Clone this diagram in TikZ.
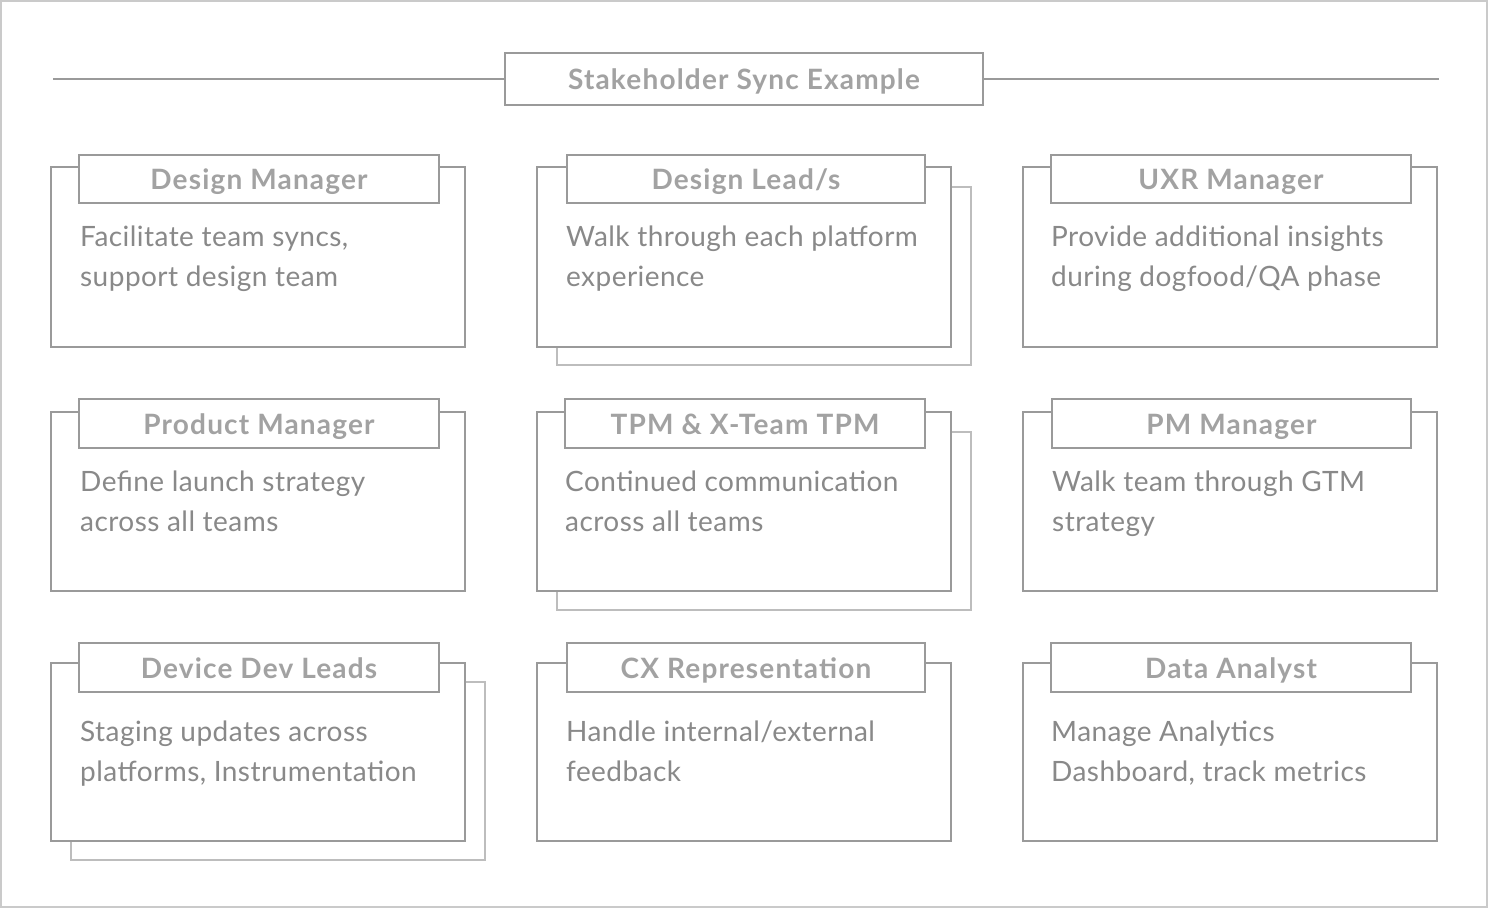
\documentclass[tikz,border=0pt]{standalone}
\usepackage{fontspec}
\setmainfont{Lato}
\newfontfamily\bodyfont[LetterSpace=1.6]{Lato}
\newfontfamily\headfont[LetterSpace=4.2]{Lato}
\definecolor{frame}{HTML}{CACACA}
\definecolor{linegray}{HTML}{9A9A9A}
\definecolor{backgray}{HTML}{BDBDBD}
\definecolor{labelgray}{HTML}{A2A2A2}
\definecolor{bodygray}{HTML}{898989}
\tikzset{
  mainbox/.style={draw=linegray, line width=1.8pt, fill=white, inner sep=0pt, outer sep=0pt, anchor=north west, minimum width=414pt, minimum height=180pt},
  backbox/.style={draw=backgray, line width=1.5pt, fill=white, inner sep=0pt, outer sep=0pt, anchor=north west, minimum width=414pt, minimum height=178pt},
  labelbox/.style={draw=linegray, line width=1.8pt, fill=white, inner sep=0pt, outer sep=0pt, anchor=north west, minimum width=360pt, minimum height=48pt},
  labeltext/.style={text=labelgray, font=\headfont\fontsize{28}{30}\selectfont\bfseries, inner sep=0pt, anchor=base},
  bodytext/.style={text=bodygray, font=\bodyfont\fontsize{28}{40}\selectfont, inner sep=0pt, anchor=base west},
  rule/.style={draw=linegray, line width=1.8pt},
}
\begin{document}
\begin{tikzpicture}[x=1pt,y=-1pt]
\useasboundingbox (0,0) rectangle (1488,908);
\draw[frame, line width=2pt] (1,1) rectangle (1487,907);
% title
\coordinate (ruleL) at (53,79);
\coordinate (ruleR) at (1439,79);
\node[draw=linegray, line width=1.8pt, fill=white, inner sep=0pt, outer sep=0pt, anchor=north west, minimum width=478pt, minimum height=52pt] (title) at (505,53) {};
\draw[rule] (ruleL) -- (title.west);
\draw[rule] (title.east) -- (ruleR);
\node[labeltext] (titletext) at (744,89) {Stakeholder Sync Example};

% ---------- back boxes (stacked) ----------
\node[backbox] (b12) at (557,187) {};
\node[backbox] (b22) at (557,432) {};
\node[backbox] (b31) at (71,682) {};

% ---------- row 1 ----------
\node[mainbox] (m11) at (51,167) {};
\node[labelbox] (l11) at (79,155) {};
\node[labeltext] at ([yshift=-10.5pt]l11.center) {Design Manager};
\node[bodytext] (t11a) at (80,246) {Facilitate team syncs,};
\node[bodytext] (t11b) at (80,286) {support design team};

\node[mainbox] (m12) at (537,167) {};
\node[labelbox, minimum width=358pt] (l12) at (567,155) {};
\node[labeltext] at ([yshift=-10.5pt]l12.center) {Design Lead/s};
\node[bodytext] (t12a) at (566,246) {Walk through each platform};
\node[bodytext] (t12b) at (566,286) {experience};

\node[mainbox] (m13) at (1023,167) {};
\node[labelbox] (l13) at (1051,155) {};
\node[labeltext] at ([yshift=-10.5pt]l13.center) {UXR Manager};
\node[bodytext] (t13a) at (1051,246) {Provide additional insights};
\node[bodytext] (t13b) at (1051,286) {during dogfood/QA phase};

% ---------- row 2 ----------
\node[mainbox, minimum height=179pt] (m21) at (51,412) {};
\node[labelbox, minimum height=49pt] (l21) at (79,399) {};
\node[labeltext] at ([yshift=-10.5pt]l21.center) {Product Manager};
\node[bodytext] (t21a) at (80,491) {Define launch strategy};
\node[bodytext] (t21b) at (80,531) {across all teams};

\node[mainbox, minimum height=179pt] (m22) at (537,412) {};
\node[labelbox, minimum width=360pt, minimum height=49pt] (l22) at (565,399) {};
\node[labeltext] at ([yshift=-10.5pt]l22.center) {TPM \& X-Team TPM};
\node[bodytext] (t22a) at (565,491) {Continued communication};
\node[bodytext] (t22b) at (565,531) {across all teams};

\node[mainbox, minimum height=179pt] (m23) at (1023,412) {};
\node[labelbox, minimum width=359pt, minimum height=49pt] (l23) at (1052,399) {};
\node[labeltext] at ([yshift=-10.5pt]l23.center) {PM Manager};
\node[bodytext] (t23a) at (1052,491) {Walk team through GTM};
\node[bodytext] (t23b) at (1052,531) {strategy};

% ---------- row 3 ----------
\node[mainbox, minimum height=178pt] (m31) at (51,663) {};
\node[labelbox, minimum height=49pt] (l31) at (79,643) {};
\node[labeltext] at ([yshift=-10.5pt]l31.center) {Device Dev Leads};
\node[bodytext] (t31a) at (80,741) {Staging updates across};
\node[bodytext] (t31b) at (80,781) {platforms, Instrumentation};

\node[mainbox, minimum height=178pt] (m32) at (537,663) {};
\node[labelbox, minimum width=358pt, minimum height=49pt] (l32) at (567,643) {};
\node[labeltext] at ([yshift=-10.5pt]l32.center) {CX Representation};
\node[bodytext] (t32a) at (566,741) {Handle internal/external};
\node[bodytext] (t32b) at (566,781) {feedback};

\node[mainbox, minimum height=178pt] (m33) at (1023,663) {};
\node[labelbox, minimum height=49pt] (l33) at (1051,643) {};
\node[labeltext] at ([yshift=-10.5pt]l33.center) {Data Analyst};
\node[bodytext] (t33a) at (1051,741) {Manage Analytics};
\node[bodytext] (t33b) at (1051,781) {Dashboard, track metrics};
\end{tikzpicture}
\end{document}
